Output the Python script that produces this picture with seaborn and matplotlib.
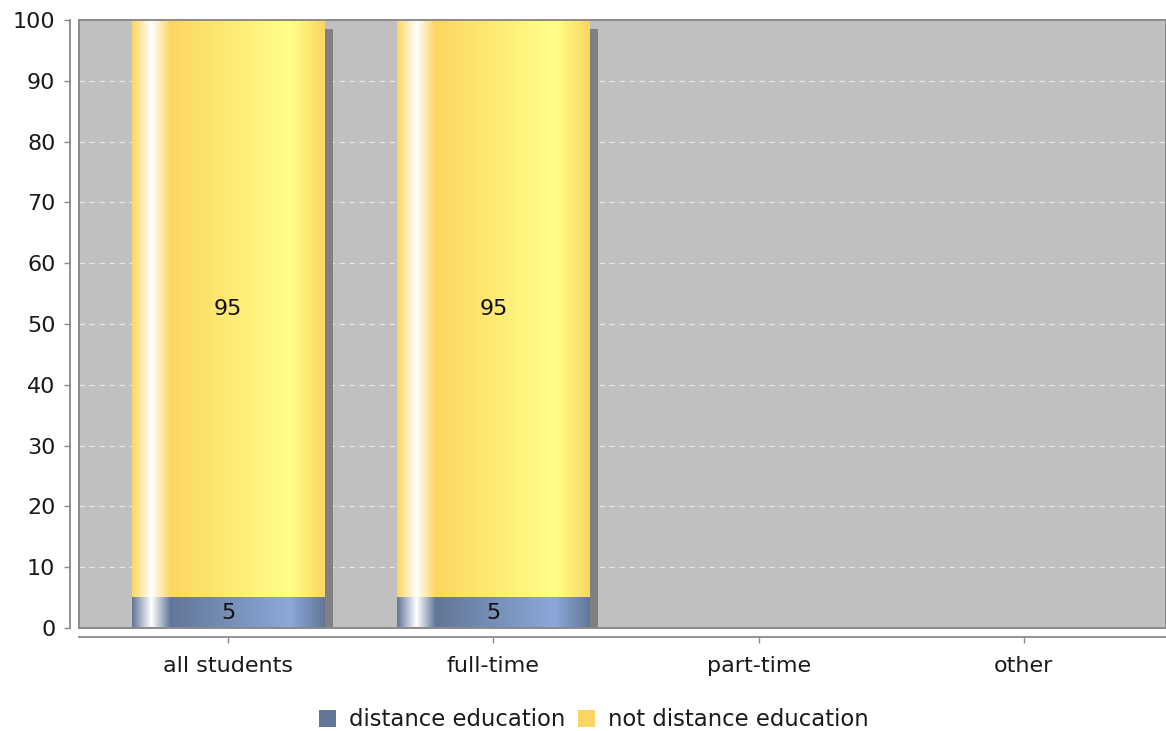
import numpy as np
import matplotlib
matplotlib.use("Agg")
import matplotlib.pyplot as plt
import matplotlib.transforms as mtransforms
from matplotlib.patches import Rectangle, Patch
import seaborn as sns

# ---- data ----
categories = ["all students", "full-time", "part-time", "other"]
distance = [5, 5, 0, 0]
not_distance = [95, 95, 0, 0]
series_names = ["distance education", "not distance education"]
y_ticks = [0, 10, 20, 30, 40, 50, 60, 70, 80, 90, 100]

totals = [a + b for a, b in zip(distance, not_distance)]

BLUE = (98, 118, 152)
YELLOW = (252, 214, 96)
FS = 16


def brighter(c):
    return tuple(min(255, v / 0.7) for v in c)


def gradient_strip(base, n=400):
    """Horizontal gradient in the style of a glossy bar painter."""
    c0 = np.array(base, float) / 255
    c1 = np.array(brighter(base), float) / 255
    white = np.ones(3)
    stops = [0.0, 0.10, 0.20, 0.82, 1.0]
    cols = [c0, white, c0, c1, c0]
    t = np.linspace(0, 1, n)
    out = np.zeros((n, 3))
    for ch in range(3):
        out[:, ch] = np.interp(t, stops, [c[ch] for c in cols])
    return out[None, :, :]


sns.set_theme(style="white")
plt.rcParams["font.family"] = ["DejaVu Sans"]

fig = plt.figure(figsize=(11.66, 7.31), dpi=100)
W, H = 1166, 731
ax = fig.add_axes([79 / W, 1 - 628 / H, (1166 - 79) / W, 608 / H])
ax.set_facecolor("#c0c0c0")

# stacked bars: totals underneath, the lower series on top of them
sns.barplot(x=categories, y=totals, color="#%02x%02x%02x" % YELLOW, width=0.725,
            ax=ax, zorder=3, linewidth=0)
sns.barplot(x=categories, y=distance, color="#%02x%02x%02x" % BLUE, width=0.725,
            ax=ax, zorder=4, linewidth=0)

n = len(categories)
top_patches = ax.patches[:n]
low_patches = ax.patches[n:2 * n]

# drop shadow behind each stack
shadow_tf = ax.transData + mtransforms.ScaledTranslation(9 / 100, -9 / 100, fig.dpi_scale_trans)
for p in top_patches:
    if p.get_height() > 0:
        ax.add_patch(Rectangle((p.get_x(), p.get_y()), p.get_width(), p.get_height(),
                               facecolor="#808080", edgecolor="none",
                               transform=shadow_tf, zorder=2))

# glossy gradient fill on each segment
for patches, base, z in ((top_patches, YELLOW, 3.5), (low_patches, BLUE, 4.5)):
    for p in patches:
        if p.get_height() <= 0:
            continue
        x0, w = p.get_x(), p.get_width()
        y0, h = p.get_y(), p.get_height()
        ax.imshow(gradient_strip(base), extent=(x0, x0 + w, y0, y0 + h),
                  aspect="auto", interpolation="bilinear", zorder=z)

# value labels at segment centres
for i in range(n):
    if distance[i] > 0:
        ax.text(i, distance[i] / 2, f"{distance[i]}", ha="center", va="center",
                fontsize=FS, color="#111111", zorder=6)
    if not_distance[i] > 0:
        ax.text(i, distance[i] + not_distance[i] / 2, f"{not_distance[i]}",
                ha="center", va="center", fontsize=FS, color="#111111", zorder=6)

ax.set_xlim(-0.562, 3.536)
ax.set_ylim(0, 100)
ax.set_yticks(y_ticks)
ax.set_xticks(range(n))
ax.set_xticklabels(categories)
ax.set_xlabel("")
ax.set_ylabel("")

# dashed horizontal gridlines
for v in y_ticks[1:-1]:
    ax.axhline(v, color="#e8e8e8", lw=0.8, ls=(0, (5, 4)), zorder=1)

# plot-area outline
ax.add_patch(Rectangle((0, 0), 1, 1, transform=ax.transAxes, facecolor="none",
                       edgecolor="#8a8a8a", lw=1.4, zorder=10, clip_on=False))

for s in ("top", "right"):
    ax.spines[s].set_visible(False)
for s in ("left", "bottom"):
    ax.spines[s].set_visible(True)
    ax.spines[s].set_color("#8a8a8a")
    ax.spines[s].set_linewidth(1.3)
    ax.spines[s].set_position(("outward", 6.5))

ax.tick_params(axis="both", bottom=True, left=True, colors="#8a8a8a",
               labelcolor="#1a1a1a", labelsize=FS, length=4.5, width=1.0,
               direction="out")
ax.tick_params(axis="y", pad=6)
ax.tick_params(axis="x", pad=9)

LFS = 16.4
handles = [Patch(facecolor="#%02x%02x%02x" % BLUE, edgecolor="none"),
           Patch(facecolor="#%02x%02x%02x" % YELLOW, edgecolor="none")]
fig.legend(handles, series_names, loc="center", bbox_to_anchor=(0.5094, 1 - 720 / H),
           ncol=2, frameon=False, fontsize=LFS, handlelength=0.74, handleheight=0.74,
           handletextpad=0.57, columnspacing=0.57, labelcolor="#1a1a1a",
           borderpad=0, borderaxespad=0)

fig.savefig("out.png", dpi=100)
